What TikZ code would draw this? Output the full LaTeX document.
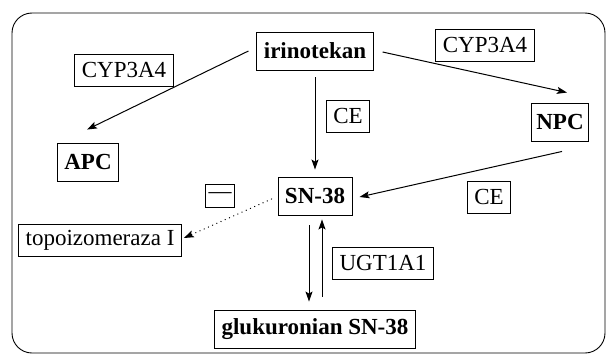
\documentclass[tikz,border=0pt]{standalone}
\usepackage{fontspec}
\setmainfont{Liberation Serif}
\usetikzlibrary{arrows.meta,calc}
\begin{document}
\begin{tikzpicture}[x=1pt,y=-1pt,
  box/.style={draw, line width=0.9pt, inner xsep=7pt, inner ysep=0pt, minimum height=32pt, font=\fontsize{23}{27}\selectfont},
  bbox/.style={box, minimum height=38pt, font=\fontsize{23}{27}\selectfont\bfseries},
  arr/.style={line width=1pt, -{Stealth[length=10pt,width=7pt,inset=2pt]}},
  dotarr/.style={line width=1.3pt, line cap=round, dash pattern=on 0.1pt off 4.5pt, -{Stealth[length=10pt,width=7pt,inset=2pt]}},
]
\useasboundingbox (0,0) rectangle (607,356);
\draw[line width=0.9pt, rounded corners=20pt] (12,13) rectangle (605,353);

\node[bbox] (irin) at (315,51) {irinotekan};
\node[box] (cypl) at (124,70) {CYP3A4};
\node[bbox] (apc) at (88,162) {APC};
\node[box] (cypr) at (485,45) {CYP3A4};
\node[box] (cet) at (348,116) {CE};
\node[bbox, inner xsep=5pt] (npc) at (560,122) {NPC};
\node[bbox] (sn) at (315,196) {SN-38};
\node[box] (cer) at (489,197) {CE};
\node[box, inner xsep=3pt, minimum height=23pt] (minus) at (220,196) {—};
\node[box] (topo) at (100,240) {topoizomeraza I};
\node[box] (ugt) at (383,263) {UGT1A1};
\node[bbox] (gluk) at (315,329) {glukuronian SN-38};

\draw[arr] ($(irin.west)+(-8,0)$) -- ($(apc.north)+(-1,-13)$);
\draw[arr] ($(irin.east)+(9,1)$) -- ($(npc.north)+(7,-10)$);
\draw[arr] ($(irin.south)+(0,7)$) -- ($(sn.north)+(0,-7)$);
\draw[arr] ($(npc.south)+(2,10)$) -- ($(sn.east)+(7,1)$);
\draw[dotarr] ($(sn.west)+(-6,3)$) -- ($(topo.east)+(2,-2)$);
\draw[arr] ($(sn.south)+(-6,10)$) -- ($(gluk.north)+(-6,-8)$);
\draw[arr] ($(gluk.north)+(7,-13)$) -- ($(sn.south)+(7,4)$);
\end{tikzpicture}
\end{document}
